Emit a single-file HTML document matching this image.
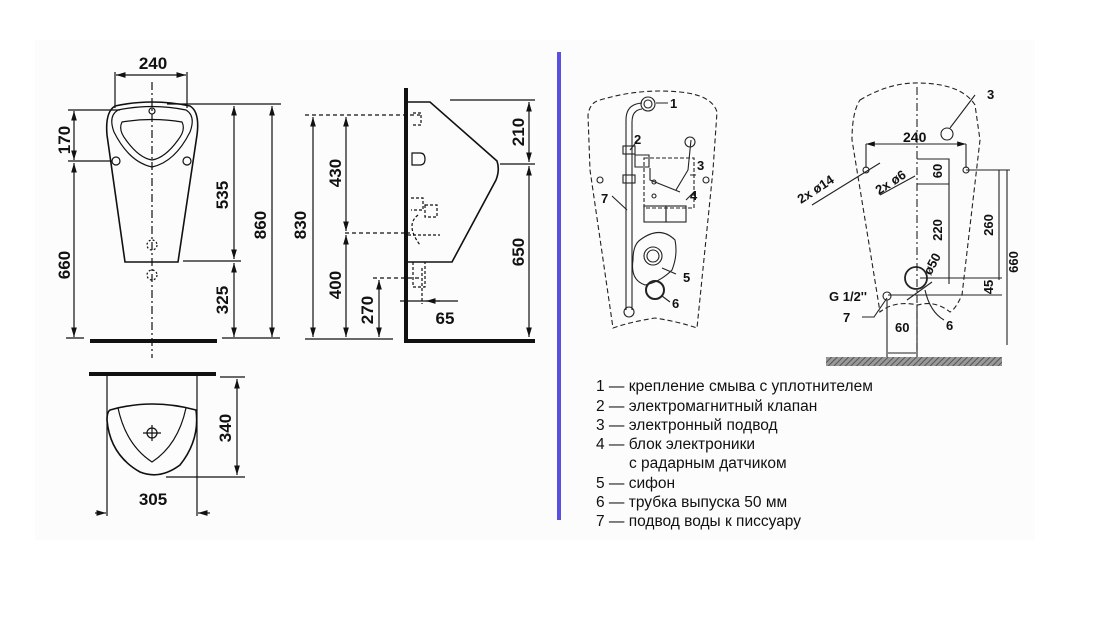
<!DOCTYPE html>
<html><head><meta charset="utf-8"><style>
html,body{margin:0;padding:0;background:#fff;}
svg{display:block}
text{font-family:"Liberation Sans",sans-serif;fill:#111;}
.d{font-weight:bold;font-size:17px;}
.l{font-size:15.5px;fill:#333;}
.s{font-weight:bold;font-size:13px;}
</style></head><body>
<svg width="1113" height="620" viewBox="0 0 1113 620" xmlns="http://www.w3.org/2000/svg">
<defs>
<marker id="a" viewBox="0 0 10 10" refX="10" refY="5" markerWidth="8" markerHeight="8" orient="auto-start-reverse"><path d="M0,2 L10,5 L0,8z" fill="#111"/></marker>
<pattern id="h" width="4" height="4" patternUnits="userSpaceOnUse" patternTransform="rotate(45)"><rect width="4" height="4" fill="#999"/><line x1="0" y1="0" x2="0" y2="4" stroke="#555" stroke-width="2"/></pattern>
</defs>
<rect x="35" y="40" width="1000" height="500" fill="#fcfcfc"/>
<g stroke="#111" fill="none" stroke-width="1.2">
<line x1="115" y1="72" x2="115" y2="108"/><line x1="187" y1="72" x2="187" y2="108"/>
<line x1="116" y1="75" x2="186" y2="75" marker-start="url(#a)" marker-end="url(#a)"/>
<line x1="152" y1="82" x2="152" y2="358" stroke-dasharray="8,3,2,3"/>
<path d="M115,106 Q152,98 190,106 Q200,112 197,135 L178,262 L125,262 L107,135 Q105,112 115,106Z" stroke-width="1.6"/>
<path d="M118,110 Q152,103 186,110 Q196,116 190,132 Q175,162 152,167 Q129,162 114,132 Q108,116 118,110Z"/>
<path d="M122,122 Q152,117 182,122 Q186,130 178,140 Q165,158 152,160 Q139,158 126,140 Q118,130 122,122Z"/>
<circle cx="152" cy="111" r="3"/>
<circle cx="116" cy="161" r="4"/><circle cx="187" cy="161" r="4"/>
<circle cx="152" cy="245" r="5" stroke-dasharray="2,2"/><circle cx="152" cy="275" r="5" stroke-dasharray="2,2"/>
<line x1="68" y1="110" x2="120" y2="110"/><line x1="68" y1="161" x2="112" y2="161"/>
<line x1="74" y1="111" x2="74" y2="160" marker-start="url(#a)" marker-end="url(#a)"/>
<line x1="74" y1="163" x2="74" y2="337" marker-start="url(#a)" marker-end="url(#a)"/>
<line x1="66" y1="338" x2="84" y2="338"/>
<line x1="167" y1="104" x2="281" y2="104"/><line x1="183" y1="261" x2="241" y2="261"/><line x1="222" y1="338" x2="280" y2="338"/>
<line x1="234" y1="106" x2="234" y2="259" marker-start="url(#a)" marker-end="url(#a)"/>
<line x1="234" y1="263" x2="234" y2="337" marker-start="url(#a)" marker-end="url(#a)"/>
<line x1="272" y1="106" x2="272" y2="337" marker-start="url(#a)" marker-end="url(#a)"/>
<line x1="90" y1="341" x2="217" y2="341" stroke-width="4"/>
<line x1="406" y1="88" x2="406" y2="341" stroke-width="4"/>
<line x1="404" y1="341" x2="535" y2="341" stroke-width="4"/>
<path d="M408,102 L430,102 L497,161 Q500,170 496,180 L452,262 L408,262" stroke-width="1.6"/>
<path d="M413,113 h8 v12 h-8 M411,198 h12 v12 h-12 M408,235 L440,235" stroke-dasharray="3,2"/>
<path d="M412,153 h8 q5,0 5,6 q0,6 -5,6 h-8z"/>
<path d="M425,205 h12 v12 h-12z M418,215 Q405,225 420,245 M413,262 v25 h12 v-25 M422,268 v36" stroke-dasharray="3,2"/>
<line x1="305" y1="115" x2="420" y2="115" stroke-dasharray="4,3"/>
<line x1="345" y1="233" x2="410" y2="233" stroke-dasharray="4,3"/>
<line x1="373" y1="278" x2="420" y2="278" stroke-dasharray="4,3"/>
<line x1="305" y1="339" x2="393" y2="339"/>
<line x1="313" y1="117" x2="313" y2="337" marker-start="url(#a)" marker-end="url(#a)"/>
<line x1="346" y1="117" x2="346" y2="231" marker-start="url(#a)" marker-end="url(#a)"/>
<line x1="346" y1="235" x2="346" y2="337" marker-start="url(#a)" marker-end="url(#a)"/>
<line x1="379" y1="280" x2="379" y2="337" marker-end="url(#a)" marker-start="url(#a)"/>
<line x1="400" y1="301" x2="458" y2="301"/><line x1="440" y1="301" x2="426" y2="301" marker-end="url(#a)"/>
<line x1="450" y1="100" x2="535" y2="100"/><line x1="500" y1="164" x2="535" y2="164"/>
<line x1="529" y1="102" x2="529" y2="162" marker-start="url(#a)" marker-end="url(#a)"/>
<line x1="529" y1="166" x2="529" y2="337" marker-start="url(#a)" marker-end="url(#a)"/>
<line x1="89" y1="374" x2="216" y2="374" stroke-width="4"/>
<line x1="107" y1="376" x2="107" y2="516"/><line x1="197" y1="376" x2="197" y2="516"/>
<path d="M110,410 Q152,398 196,410 Q200,440 180,465 Q160,480 140,472 Q110,455 107,420 Q107,412 110,410Z" stroke-width="1.6"/>
<path d="M118,408 Q126,445 152,462 Q178,445 186,408" />
<circle cx="152" cy="433" r="5"/><line x1="143" y1="433" x2="161" y2="433"/><line x1="152" y1="425" x2="152" y2="441"/>
<line x1="220" y1="377" x2="245" y2="377"/><line x1="166" y1="477" x2="245" y2="477"/>
<line x1="237" y1="379" x2="237" y2="475" marker-start="url(#a)" marker-end="url(#a)"/>
<line x1="95" y1="513" x2="106" y2="513" marker-end="url(#a)"/><line x1="210" y1="513" x2="198" y2="513" marker-end="url(#a)"/>
</g>
<g class="d">
<text x="153" y="69" text-anchor="middle">240</text>
<text transform="translate(70,140) rotate(-90)" text-anchor="middle">170</text>
<text transform="translate(70,265) rotate(-90)" text-anchor="middle">660</text>
<text transform="translate(228,195) rotate(-90)" text-anchor="middle">535</text>
<text transform="translate(266,225) rotate(-90)" text-anchor="middle">860</text>
<text transform="translate(228,300) rotate(-90)" text-anchor="middle">325</text>
<text transform="translate(306,225) rotate(-90)" text-anchor="middle">830</text>
<text transform="translate(341,173) rotate(-90)" text-anchor="middle">430</text>
<text transform="translate(341,285) rotate(-90)" text-anchor="middle">400</text>
<text transform="translate(373,310) rotate(-90)" text-anchor="middle">270</text>
<text x="445" y="324" text-anchor="middle">65</text>
<text transform="translate(524,132) rotate(-90)" text-anchor="middle">210</text>
<text transform="translate(524,252) rotate(-90)" text-anchor="middle">650</text>
<text transform="translate(231,428) rotate(-90)" text-anchor="middle">340</text>
<text x="153" y="505" text-anchor="middle">305</text>
</g>
<line x1="559" y1="52" x2="559" y2="520" stroke="#5a50e0" stroke-width="4"/>
<g stroke="#222" fill="none" stroke-width="1.1">
<path d="M600,100 Q640,88 680,92 Q712,95 717,112 L713,170 L697,328 Q680,322 655,318 Q630,322 613,328 L590,170 L588,115 Q590,102 600,100Z" stroke-dasharray="5,3"/>
<path d="M626,310 L626,120 Q626,104 642,103 M632,310 L632,122 Q632,110 642,109"/>
<circle cx="648" cy="104" r="7"/><circle cx="648" cy="104" r="4"/>
<rect x="623" y="146" width="12" height="8"/><rect x="623" y="175" width="12" height="8"/>
<circle cx="629" cy="312" r="5"/>
<path d="M635,155 h14 v12 h-14z"/>
<path d="M644,158 h50 v50 h-50z" stroke-dasharray="4,2"/>
<rect x="644" y="206" width="22" height="16"/><rect x="666" y="206" width="20" height="16"/>
<path d="M650,168 v12 l30,12 M676,190 l12,-20 l3,-30"/>
<circle cx="690" cy="142" r="5"/>
<path d="M640,240 Q660,225 675,240 Q678,255 672,270 Q660,282 645,285 Q630,280 633,260 Q633,245 640,240Z"/>
<circle cx="653" cy="256" r="9"/><circle cx="653" cy="256" r="6"/>
<circle cx="655" cy="290" r="9" stroke-width="2"/>
<path d="M656,103 h12 M630,150 L638,140 M690,175 h6 M686,200 l8,-8 M662,268 l14,6 M662,296 l8,6 M627,210 L612,196"/>
<circle cx="600" cy="180" r="3"/><circle cx="706" cy="180" r="3"/>
<circle cx="654" cy="182" r="2"/><circle cx="654" cy="196" r="2"/>
</g>
<g class="s">
<text x="670" y="108">1</text><text x="634" y="144">2</text><text x="697" y="170">3</text>
<text x="690" y="200">4</text><text x="683" y="282">5</text><text x="672" y="308">6</text><text x="601" y="203">7</text>
</g>
<g stroke="#222" fill="none" stroke-width="1.1">
<path d="M860,100 Q890,82 920,83 Q962,84 975,105 L980,140 L962,295 Q955,310 950,312 Q935,300 918,305 Q895,300 880,312 L870,250 L852,140 Q852,112 860,100Z" stroke-dasharray="5,3"/>
<line x1="917" y1="87" x2="917" y2="350" stroke-dasharray="8,3,2,3"/>
<line x1="866" y1="144" x2="966" y2="144" marker-start="url(#a)" marker-end="url(#a)"/>
<line x1="866" y1="144" x2="866" y2="168"/><line x1="966" y1="144" x2="966" y2="168"/>
<circle cx="866" cy="170" r="3"/><circle cx="966" cy="170" r="3"/>
<circle cx="947" cy="134" r="6"/>
<path d="M975,95 L950,128 M812,205 L880,163 M880,195 L915,176 M917,159 h32 v125 M917,184 h32 M966,170 h44 M999,170 v110 M1007,170 v175 M920,278 h82 M888,295 h114 M907,300 l25,-18"/>
<circle cx="916" cy="278" r="11" stroke-width="1.8"/>
<circle cx="887" cy="296" r="4"/>
<path d="M887,300 v57 M917,305 v52 M888,353 h28 M862,317 h12 L887,298 M925,290 Q930,312 944,320"/>
</g>
<rect x="826" y="357" width="176" height="9" fill="url(#h)"/>
<g class="s">
<text x="903" y="142" font-size="14">240</text>
<text x="987" y="99">3</text>
<text transform="translate(942,171) rotate(-90)" text-anchor="middle">60</text>
<text transform="translate(942,230) rotate(-90)" text-anchor="middle">220</text>
<text transform="translate(993,225) rotate(-90)" text-anchor="middle">260</text>
<text transform="translate(1018,262) rotate(-90)" text-anchor="middle">660</text>
<text transform="translate(993,287) rotate(-90)" text-anchor="middle">45</text>
<text transform="translate(936,266) rotate(-62)" text-anchor="middle">ø50</text>
<text transform="translate(818,193) rotate(-33)" text-anchor="middle">2x ø14</text>
<text transform="translate(893,186) rotate(-33)" text-anchor="middle">2x ø6</text>
<text x="829" y="301">G 1/2''</text>
<text x="843" y="322">7</text><text x="895" y="332">60</text><text x="946" y="330">6</text>
</g>
<g class="l">
<text x="596" y="391">1 — крепление смыва с уплотнителем</text>
<text x="596" y="411">2 — электромагнитный клапан</text>
<text x="596" y="430">3 — электронный подвод</text>
<text x="596" y="449">4 — блок электроники</text>
<text x="629" y="468">с радарным датчиком</text>
<text x="596" y="488">5 — сифон</text>
<text x="596" y="507">6 — трубка выпуска 50 мм</text>
<text x="596" y="526">7 — подвод воды к писсуару</text>
</g>
</svg>
</body></html>
